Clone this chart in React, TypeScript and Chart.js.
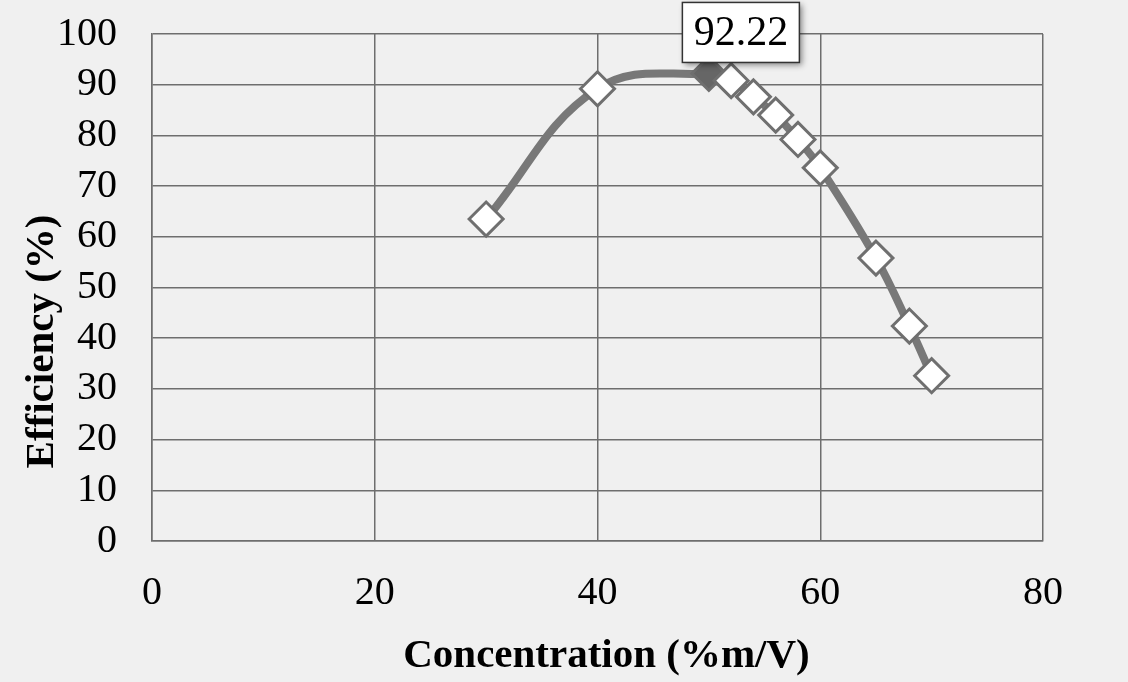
import React, { useEffect, useRef } from "react";
import { Chart, registerables } from "chart.js";

Chart.register(...registerables);

const concentrations = [30, 40, 50, 52, 54, 56, 58, 60, 65, 68, 70];
const efficiencies = [63.5, 89.2, 92.22, 90.8, 87.6, 84.0, 79.2, 73.6, 55.8, 42.4, 32.6];
const labelledIndex = 2;
const labelText = "92.22";
const xTitle = "Concentration (%m/V)";
const yTitle = "Efficiency (%)";

const SERIF = "'Liberation Serif', 'Times New Roman', serif";
const GRID = "#6e6e6e";

const labelPlugin = {
  id: "valueLabel",
  afterDatasetsDraw(chart: any) {
    const meta = chart.getDatasetMeta(0);
    const pt = meta.data[labelledIndex];
    if (!pt) return;
    const ctx = chart.ctx;
    const w = 117;
    const h = 60;
    const cx = pt.x + 32;
    const cy = pt.y - 41;
    ctx.save();
    ctx.shadowColor = "rgba(0,0,0,0.45)";
    ctx.shadowBlur = 6;
    ctx.shadowOffsetX = 3;
    ctx.shadowOffsetY = 3;
    ctx.fillStyle = "#ffffff";
    ctx.fillRect(cx - w / 2, cy - h / 2, w, h);
    ctx.shadowColor = "transparent";
    ctx.strokeStyle = "#333333";
    ctx.lineWidth = 1.5;
    ctx.strokeRect(cx - w / 2, cy - h / 2, w, h);
    ctx.fillStyle = "#000000";
    ctx.font = `42px ${SERIF}`;
    ctx.textAlign = "center";
    ctx.textBaseline = "middle";
    ctx.fillText(labelText, cx, cy + 2);
    ctx.restore();
  },
};

const titlesPlugin = {
  id: "axisTitles",
  afterDraw(chart: any) {
    const ctx = chart.ctx;
    const area = chart.chartArea;
    ctx.save();
    ctx.fillStyle = "#000";
    ctx.font = `bold 41px ${SERIF}`;
    ctx.textAlign = "center";
    ctx.textBaseline = "alphabetic";
    ctx.fillText(xTitle, (area.left + area.right) / 2 + 9, 667);
    ctx.translate(42, (area.top + area.bottom) / 2 + 54);
    ctx.rotate(-Math.PI / 2);
    ctx.textBaseline = "middle";
    ctx.fillText(yTitle, 0, 0);
    ctx.restore();
  },
};

export default function App() {
  const ref = useRef<HTMLCanvasElement | null>(null);

  useEffect(() => {
    document.body.style.margin = "0";
    const canvas = ref.current;
    if (!canvas) return;
    const data = concentrations.map((x, i) => ({ x, y: efficiencies[i] }));
    const chart = new Chart(canvas, {
      type: "line",
      data: {
        datasets: [
          {
            data,
            borderColor: "#787878",
            borderWidth: 8,
            tension: 0.4,
            pointStyle: "rectRot",
            pointRadius: 17,
            pointBorderWidth: 3,
            pointBorderColor: "#6f6f6f",
            pointBackgroundColor: concentrations.map((_, i) =>
              i === labelledIndex ? "#666666" : "#ffffff"
            ),
          },
        ],
      },
      options: {
        animation: false,
        responsive: false,
        maintainAspectRatio: false,
        layout: { padding: { top: 34, right: 85, left: 0, bottom: 0 } },
        plugins: { legend: { display: false }, tooltip: { enabled: false } },
        scales: {
          x: {
            type: "linear",
            min: 0,
            max: 80,
            ticks: {
              stepSize: 20,
              autoSkip: false,
              color: "#000",
              font: { family: SERIF, size: 40 },
              padding: 28,
              maxRotation: 0,
            },
            grid: { color: GRID, lineWidth: 1.5, drawTicks: false },
            border: { color: GRID, width: 1.5 },
            afterFit: (s: any) => {
              s.height = 141;
              s.paddingLeft = 0;
              s.paddingRight = 0;
            },
          },
          y: {
            min: 0,
            max: 100,
            ticks: {
              stepSize: 10,
              autoSkip: false,
              color: "#000",
              font: { family: SERIF, size: 40 },
              padding: 35,
            },
            grid: { color: GRID, lineWidth: 1.5, drawTicks: false },
            border: { color: GRID, width: 1.5 },
            afterFit: (s: any) => {
              s.width = 152;
              s.paddingTop = 0;
              s.paddingBottom = 0;
            },
          },
        },
      },
      plugins: [labelPlugin, titlesPlugin],
    } as any);
    return () => chart.destroy();
  }, []);

  return (
    <div
      style={{
        position: "fixed",
        left: 0,
        top: 0,
        width: 1128,
        height: 682,
        background: "#f0f0f0",
      }}
    >
      <canvas ref={ref} width={1128} height={682} style={{ display: "block" }} />
    </div>
  );
}
